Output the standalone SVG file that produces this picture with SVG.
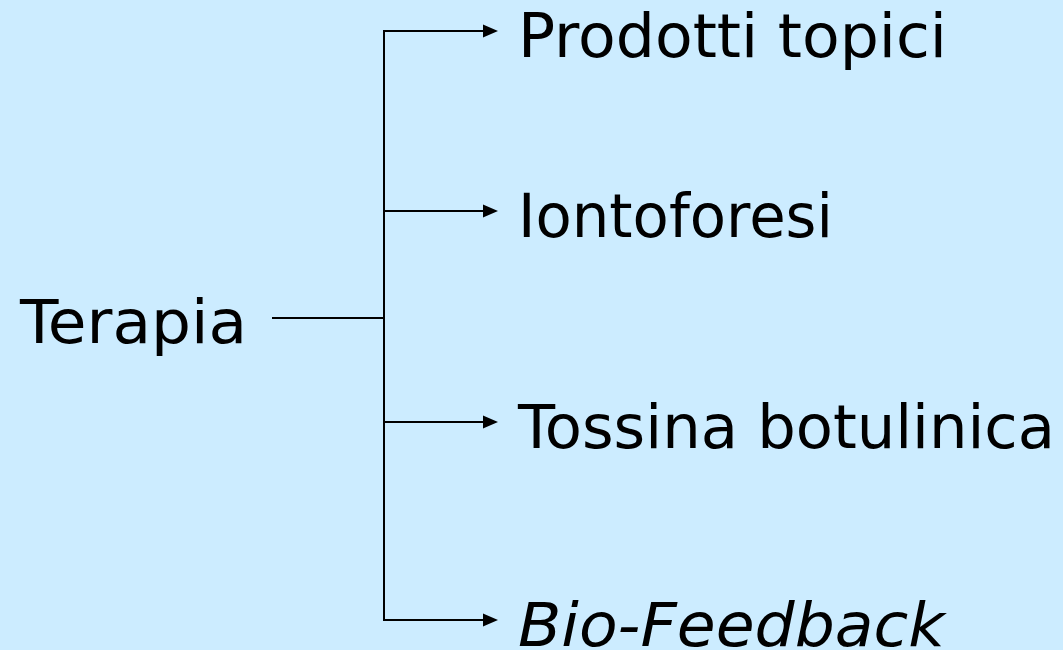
<svg xmlns="http://www.w3.org/2000/svg" width="1063" height="650" viewBox="0 0 1063 650">
<defs>
<path id="head" d="M-15,-6.5 L0,0 L-15,6.5 z" fill="#000"/>
<style>
.t{font-family:"DejaVu Sans",sans-serif;font-size:60px;fill:#000}
.c{stroke:#000;stroke-width:2;fill:none}
</style>
</defs>
<rect width="1063" height="650" fill="#CCECFF"/>
<g id="terapia"><text class="t" x="20" y="343" textLength="227" lengthAdjust="spacingAndGlyphs">Terapia</text></g>
<g id="prodotti"><text class="t" x="518" y="57" textLength="429" lengthAdjust="spacingAndGlyphs">Prodotti topici</text></g>
<g id="iontoforesi"><text class="t" x="518" y="237" textLength="315" lengthAdjust="spacingAndGlyphs">Iontoforesi</text></g>
<g id="tossina"><text class="t" x="518" y="448" textLength="537" lengthAdjust="spacingAndGlyphs">Tossina botulinica</text></g>
<g id="biofeedback"><text class="t" x="518" y="646" font-style="italic" textLength="427" lengthAdjust="spacingAndGlyphs">Bio-Feedback</text></g>
<g id="connectors">
<line class="c" x1="272" y1="318" x2="385" y2="318"/>
<line class="c" x1="384" y1="30" x2="384" y2="621"/>
<line class="c" x1="383" y1="31" x2="485" y2="31"/>
<line class="c" x1="383" y1="211" x2="485" y2="211"/>
<line class="c" x1="383" y1="422" x2="485" y2="422"/>
<line class="c" x1="383" y1="620" x2="485" y2="620"/>
<use href="#head" x="498" y="31"/>
<use href="#head" x="498" y="211"/>
<use href="#head" x="498" y="422"/>
<use href="#head" x="498" y="620"/>
</g>
</svg>
